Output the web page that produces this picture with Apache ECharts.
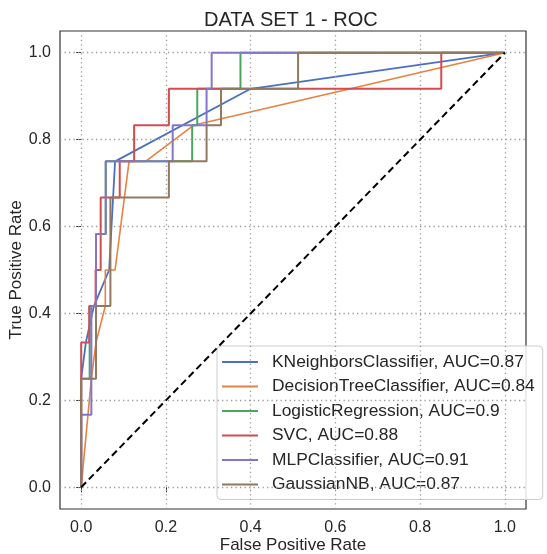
<!DOCTYPE html>
<html><head><meta charset="utf-8">
<script src="https://cdn.jsdelivr.net/npm/echarts@6/dist/echarts.min.js"></script>
<style>html,body{margin:0;padding:0;background:#fff}#c{width:547px;height:554px}</style>
</head><body><div id="c"></div>
<script>
// ---- data ----
const seriesNames = [
  'KNeighborsClassifier, AUC=0.87',
  'DecisionTreeClassifier, AUC=0.84',
  'LogisticRegression, AUC=0.9',
  'SVC, AUC=0.88',
  'MLPClassifier, AUC=0.91',
  'GaussianNB, AUC=0.87'
];
const knnFpr = [0, 0, 0.011, 0.03, 0.066, 0.08, 0.40, 1];
const knnTpr = [0, 0.25, 0.333, 0.417, 0.5, 0.75, 0.917, 1];

const dtFpr = [0, 0.024, 0.035, 0.057, 0.057, 0.08, 0.113, 0.152, 0.265, 1];
const dtTpr = [0, 0.25, 0.333, 0.417, 0.5, 0.5, 0.75, 0.75, 0.833, 1];

const lrFpr = [0, 0, 0.02, 0.02, 0.035, 0.035, 0.058, 0.058, 0.262, 0.262, 0.274, 0.274, 0.376, 0.376, 1];
const lrTpr = [0, 0.25, 0.25, 0.417, 0.417, 0.583, 0.583, 0.75, 0.75, 0.833, 0.833, 0.917, 0.917, 1, 1];

const svcFpr = [0, 0, 0.019, 0.019, 0.034, 0.034, 0.046, 0.046, 0.091, 0.091, 0.125, 0.125, 0.207, 0.207, 0.85, 0.85, 1];
const svcTpr = [0, 0.333, 0.333, 0.417, 0.417, 0.5, 0.5, 0.667, 0.667, 0.75, 0.75, 0.833, 0.833, 0.917, 0.917, 1, 1];

const mlpFpr = [0, 0, 0.024, 0.024, 0.035, 0.035, 0.058, 0.058, 0.216, 0.216, 0.296, 0.296, 0.308, 0.308, 1];
const mlpTpr = [0, 0.167, 0.167, 0.417, 0.417, 0.583, 0.583, 0.75, 0.75, 0.833, 0.833, 0.917, 0.917, 1, 1];

const gnbFpr = [0, 0, 0.035, 0.035, 0.069, 0.069, 0.207, 0.207, 0.296, 0.296, 0.33, 0.33, 0.512, 0.512, 1];
const gnbTpr = [0, 0.25, 0.25, 0.417, 0.417, 0.667, 0.667, 0.75, 0.75, 0.833, 0.833, 0.917, 0.917, 1, 1];

const chanceFpr = [0, 1];
const chanceTpr = [0, 1];

const tickValues = [0, 0.2, 0.4, 0.6, 0.8, 1.0];
const tickLabels = ['0.0', '0.2', '0.4', '0.6', '0.8', '1.0'];

// ---- styles ----
const colors = ['#4a70bf', '#e8813f', '#4aa85e', '#d24c50', '#8575c8', '#937860'];
const widths = [1.8, 1.6, 2, 2, 2, 2];
const FONT = "'Liberation Sans', Arial, sans-serif";
const TXT = '#262626';

function pairs(xs, ys) { return xs.map((x, i) => [x, ys[i]]); }
const curveData = [
  pairs(knnFpr, knnTpr), pairs(dtFpr, dtTpr), pairs(lrFpr, lrTpr),
  pairs(svcFpr, svcTpr), pairs(mlpFpr, mlpTpr), pairs(gnbFpr, gnbTpr)
];

const axisCommon = {
  type: 'value', min: -0.05, max: 1.05,
  axisLine: { show: false },
  axisTick: { show: true, inside: false, length: 5, customValues: tickValues, lineStyle: { color: '#333', width: 1 } },
  axisLabel: { customValues: tickValues, fontSize: 16, color: TXT, fontFamily: FONT,
    formatter: v => tickLabels[tickValues.indexOf(Math.round(v * 10) / 10)] },
  splitLine: { show: false },
  nameLocation: 'middle',
  nameMoveOverlap: false,
  nameTextStyle: { fontSize: 17, color: TXT, fontFamily: FONT }
};

const gridLineStyle = { color: '#9a9a9a', width: 1.3, type: [1.3, 3.2] };

const series = [{
  type: 'line', data: [], silent: true, z: 1,
  markLine: {
    silent: true, symbol: ['none', 'none'], label: { show: false },
    lineStyle: gridLineStyle, animation: false,
    data: tickValues.map(v => ({ xAxis: v })).concat(tickValues.map(v => ({ yAxis: v })))
  }
}];
curveData.forEach((d, i) => {
  series.push({
    name: seriesNames[i], type: 'line', data: d, showSymbol: false, symbol: 'none',
    lineStyle: { color: colors[i], width: widths[i] }, itemStyle: { color: colors[i] },
    z: 2 + i, silent: true
  });
});
series.push({
  type: 'line', data: pairs(chanceFpr, chanceTpr), showSymbol: false, symbol: 'none',
  lineStyle: { color: '#000', width: 2, type: [7, 4] }, z: 10, silent: true
});

const chart = echarts.init(document.getElementById('c'));
chart.setOption({
  animation: false,
  backgroundColor: '#fff',
  title: { text: 'DATA SET 1 - ROC', left: 204, top: 10, padding: 0,
    textStyle: { fontSize: 20, fontWeight: 'normal', color: TXT, fontFamily: FONT } },
  grid: { left: 60, right: 21, top: 31, bottom: 45, show: true, borderColor: '#333', borderWidth: 1.2,
    backgroundColor: 'transparent', containLabel: false, outerBoundsMode: 'none' },
  xAxis: Object.assign({}, axisCommon, { name: 'False Positive Rate', nameGap: 28,
    axisLabel: Object.assign({}, axisCommon.axisLabel, { margin: 11 }) }),
  yAxis: Object.assign({}, axisCommon, { name: 'True Positive Rate', nameGap: 35,
    axisLabel: Object.assign({}, axisCommon.axisLabel, { margin: 9 }) }),
  legend: {
    data: seriesNames, orient: 'vertical', left: 217, top: 346,
    icon: 'rect', itemWidth: 36, itemHeight: 2, itemGap: 4.5,
    padding: [6, 8, 5, 5], backgroundColor: 'rgba(255,255,255,0.85)',
    borderColor: '#cccccc', borderWidth: 1, borderRadius: 4,
    textStyle: { fontSize: 17.4, lineHeight: 20, color: TXT, fontFamily: FONT, padding: [0, 0, 0, 9] },
    selectedMode: false
  },
  series: series
});
</script>
</body></html>
